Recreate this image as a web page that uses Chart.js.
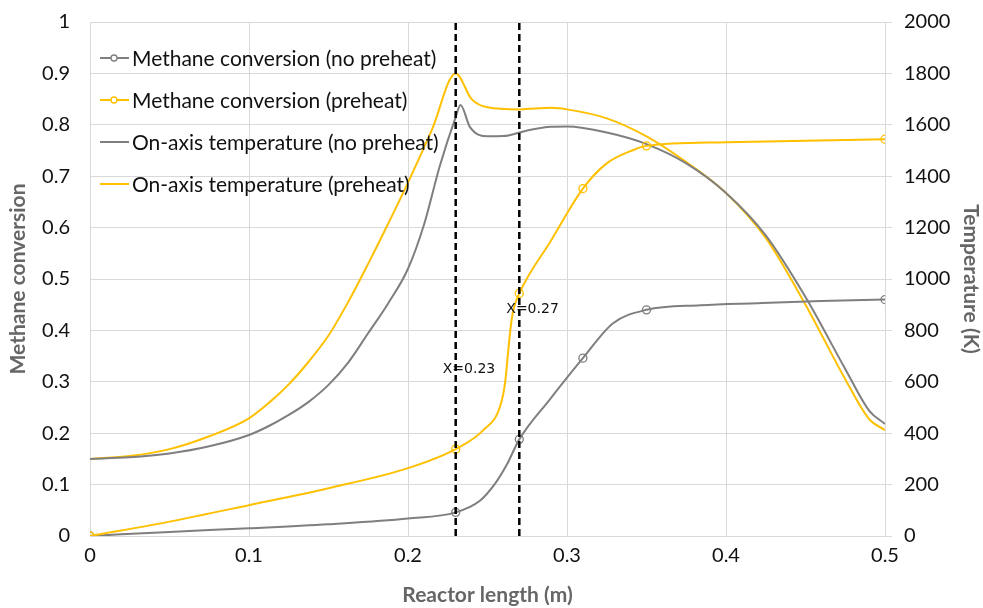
<!DOCTYPE html>
<html>
<head>
<meta charset="utf-8">
<title>Methane conversion and on-axis temperature</title>
<script src="https://cdn.jsdelivr.net/npm/chart.js@4.4.1/dist/chart.umd.min.js"></script>
<style>
    html, body { margin: 0; padding: 0; background: #fff; }
    #wrap { position: relative; width: 983px; height: 608px; }
</style>
</head>
<body>
<div id="wrap"><canvas id="chartReactor"></canvas></div>
<script>
// ── Data ──────────────────────────────────────────
// Methane conversion, no preheat (left axis)
const convNoPreheatX = [0, 0.05, 0.1, 0.15, 0.2, 0.23, 0.245, 0.255, 0.262, 0.27, 0.289, 0.31, 0.329, 0.35, 0.384, 0.42, 0.46, 0.5];
const convNoPreheatY = [0, 0.008, 0.015, 0.023, 0.034, 0.046, 0.068, 0.103, 0.138, 0.188, 0.265, 0.346, 0.414, 0.44, 0.449, 0.453, 0.457, 0.46];

// Methane conversion, preheat (left axis)
const convPreheatX = [0, 0.05, 0.1, 0.15, 0.2, 0.23, 0.2474, 0.2579, 0.261, 0.2631, 0.2646, 0.2663, 0.27, 0.29, 0.31, 0.325, 0.3417, 0.35, 0.4, 0.45, 0.5];
const convPreheatY = [0, 0.028, 0.06, 0.093, 0.132, 0.169, 0.206, 0.252, 0.297, 0.362, 0.407, 0.44, 0.472, 0.575, 0.676, 0.725, 0.751, 0.759, 0.766, 0.769, 0.772];

// points that carry a marker
const convMarkerX = [0, 0.23, 0.27, 0.31, 0.35, 0.5];

// On-axis temperature, no preheat (right axis, K)
const tempNoPreheatX = [0, 0.025, 0.05, 0.075, 0.1, 0.1125, 0.125, 0.1375, 0.15, 0.1625, 0.175, 0.1875, 0.2, 0.21, 0.22, 0.23, 0.233, 0.239, 0.25, 0.26, 0.275, 0.29, 0.3, 0.325, 0.35, 0.375, 0.4, 0.425, 0.45, 0.475, 0.49, 0.5];
const tempNoPreheatY = [300, 306, 321, 349, 393, 428, 471, 522, 588, 676, 790, 905, 1040, 1210, 1440, 1630, 1677, 1591, 1555, 1556, 1578, 1592, 1593, 1570, 1525, 1450, 1335, 1170, 930, 650, 488, 436];

// On-axis temperature, preheat (right axis, K)
const tempPreheatX = [0, 0.025, 0.05, 0.075, 0.1, 0.1125, 0.125, 0.1375, 0.15, 0.1625, 0.175, 0.1875, 0.2, 0.215, 0.23, 0.24, 0.25, 0.27, 0.29, 0.3, 0.325, 0.35, 0.375, 0.4, 0.425, 0.45, 0.475, 0.49, 0.5];
const tempPreheatY = [300, 311, 338, 388, 458, 518, 590, 678, 780, 912, 1060, 1215, 1375, 1580, 1800, 1700, 1668, 1660, 1666, 1660, 1625, 1555, 1455, 1335, 1160, 900, 610, 455, 412];

// dashed guide lines and their labels
const guideX      = [0.23, 0.27];
const guideLabels = ['X=0.23', 'X=0.27'];
const guideLabelY = [0.325, 0.44];

// axis ticks
const xTicks  = [0, 0.1, 0.2, 0.3, 0.4, 0.5];
const yTicks  = [0, 0.1, 0.2, 0.3, 0.4, 0.5, 0.6, 0.7, 0.8, 0.9, 1];
const y2Ticks = [0, 200, 400, 600, 800, 1000, 1200, 1400, 1600, 1800, 2000];

// ── Helpers ──────────────────────────────
const GREY   = '#7f7f7f';
const YELLOW = '#ffc000';
const GRID   = '#d9d9d9';
const FONT   = 'Lato, "Open Sans", sans-serif';

function toPoints(xs, ys) {
    return xs.map(function(x, i) { return { x: x, y: ys[i] }; });
}

function markerRadius(ctx) {
    return (ctx.raw && convMarkerX.indexOf(ctx.raw.x) >= 0) ? 4 : 0;
}

function fixedTicks(list) {
    return function(scale) {
        scale.ticks = list.map(function(v) { return { value: v }; });
    };
}

function guideDataset(x) {
    return {
        data: [{ x: x, y: 0 }, { x: x, y: 1 }],
        yAxisID: 'y',
        showLine: true,
        borderColor: '#000',
        borderWidth: 2.5,
        borderDash: [7, 4],
        pointRadius: 0,
        order: 0
    };
}

// ── Plugin: legend inside the plot area ───
const insideLegend = {
    id: 'insideLegend',
    afterDraw: function(chart) {
        const ctx  = chart.ctx;
        const area = chart.chartArea;
        let row = 0;
        ctx.save();
        ctx.font = '21px ' + FONT;
        ctx.textBaseline = 'middle';
        chart.data.datasets.forEach(function(ds) {
            if (!ds.legendText) return;
            const y  = area.top + 36 + row * 42;
            const x0 = area.left + 10;
            ctx.strokeStyle = ds.borderColor;
            ctx.lineWidth = 2;
            ctx.beginPath();
            ctx.moveTo(x0, y);
            ctx.lineTo(x0 + 29, y);
            ctx.stroke();
            if (ds.hasMarkers) {
                ctx.lineWidth = 1.3;
                ctx.fillStyle = '#fff';
                ctx.beginPath();
                ctx.arc(x0 + 14, y, 3, 0, Math.PI * 2);
                ctx.fill();
                ctx.stroke();
            }
            ctx.fillStyle = '#111';
            ctx.fillText(ds.legendText, x0 + 32, y + 1);
            row++;
        });
        ctx.restore();
    }
};

// ── Plugin: labels next to the guide lines ─
const guideText = {
    id: 'guideText',
    afterDatasetsDraw: function(chart) {
        const ctx = chart.ctx;
        ctx.save();
        ctx.font = '14px "DejaVu Sans", sans-serif';
        ctx.fillStyle = '#111';
        ctx.textBaseline = 'middle';
        guideX.forEach(function(gx, i) {
            const px = chart.scales.x.getPixelForValue(gx);
            const py = chart.scales.y.getPixelForValue(guideLabelY[i]);
            ctx.fillText(guideLabels[i], px - 13, py);
        });
        ctx.restore();
    }
};

// ── Chart ────────────────────────────────
const ctxReactor = document.getElementById('chartReactor');

new Chart(ctxReactor, {
    type: 'scatter',
    data: {
        datasets: [
            guideDataset(guideX[0]),
            guideDataset(guideX[1]),
            {
                legendText: 'Methane conversion (no preheat)',
                hasMarkers: true,
                data: toPoints(convNoPreheatX, convNoPreheatY),
                yAxisID: 'y',
                showLine: true,
                borderColor: GREY,
                borderWidth: 2,
                cubicInterpolationMode: 'monotone',
                pointRadius: markerRadius,
                pointBorderColor: GREY,
                pointBackgroundColor: 'rgba(255,255,255,0)',
                pointBorderWidth: 1.3,
                order: 2
            },
            {
                legendText: 'Methane conversion (preheat)',
                hasMarkers: true,
                data: toPoints(convPreheatX, convPreheatY),
                yAxisID: 'y',
                showLine: true,
                borderColor: YELLOW,
                borderWidth: 2,
                cubicInterpolationMode: 'monotone',
                pointRadius: markerRadius,
                pointBorderColor: YELLOW,
                pointBackgroundColor: 'rgba(255,255,255,0)',
                pointBorderWidth: 1.3,
                order: 1
            },
            {
                legendText: 'On-axis temperature (no preheat)',
                data: toPoints(tempNoPreheatX, tempNoPreheatY),
                yAxisID: 'y2',
                showLine: true,
                borderColor: GREY,
                borderWidth: 2,
                cubicInterpolationMode: 'monotone',
                pointRadius: 0,
                order: 3
            },
            {
                legendText: 'On-axis temperature (preheat)',
                data: toPoints(tempPreheatX, tempPreheatY),
                yAxisID: 'y2',
                showLine: true,
                borderColor: YELLOW,
                borderWidth: 2,
                cubicInterpolationMode: 'monotone',
                pointRadius: 0,
                order: 4
            }
        ]
    },
    options: {
        responsive: true,
        maintainAspectRatio: false,
        animation: false,
        layout: { padding: { top: 22, left: 0, right: 0, bottom: 0 } },
        plugins: {
            legend: { display: false },
            tooltip: { enabled: false }
        },
        scales: {
            x: {
                type: 'linear',
                min: 0,
                max: 0.5,
                afterBuildTicks: fixedTicks(xTicks),
                afterFit: function(s) { s.height = 72; },
                grid: { color: GRID, drawTicks: false },
                border: { color: GRID },
                ticks: {
                    padding: 8,
                    color: '#111',
                    font: { family: FONT, size: 20 },
                    callback: function(v) { return String(Math.round(v * 10) / 10); }
                },
                title: {
                    display: true,
                    text: 'Reactor length (m)',
                    color: '#666',
                    font: { family: FONT, size: 21, weight: 'bold' },
                    padding: { top: 0, bottom: 0 }
                }
            },
            y: {
                type: 'linear',
                position: 'left',
                min: 0,
                max: 1,
                afterBuildTicks: fixedTicks(yTicks),
                afterFit: function(s) { s.width = 90; },
                grid: { color: GRID, drawTicks: true, tickLength: 16, tickColor: 'rgba(0,0,0,0)' },
                border: { color: GRID },
                ticks: {
                    padding: 4,
                    color: '#111',
                    font: { family: FONT, size: 20, lineHeight: 1 },
                    callback: function(v) { return String(Math.round(v * 10) / 10); }
                },
                title: {
                    display: true,
                    text: 'Methane conversion',
                    color: '#666',
                    font: { family: FONT, size: 21, weight: 'bold' },
                    padding: { top: 6, bottom: 0 }
                }
            },
            y2: {
                type: 'linear',
                position: 'right',
                min: 0,
                max: 2000,
                afterBuildTicks: fixedTicks(y2Ticks),
                afterFit: function(s) { s.width = 98; },
                grid: { drawOnChartArea: false, color: GRID, tickLength: 7 },
                border: { color: GRID },
                ticks: {
                    padding: 12,
                    color: '#111',
                    font: { family: FONT, size: 20, lineHeight: 1 },
                    callback: function(v) { return String(v); }
                },
                title: {
                    display: true,
                    text: 'Temperature (K)',
                    color: '#666',
                    font: { family: FONT, size: 21, weight: 'bold' },
                    padding: { top: 0, bottom: 2 }
                }
            }
        }
    },
    plugins: [guideText, insideLegend]
});
</script>
</body>
</html>
